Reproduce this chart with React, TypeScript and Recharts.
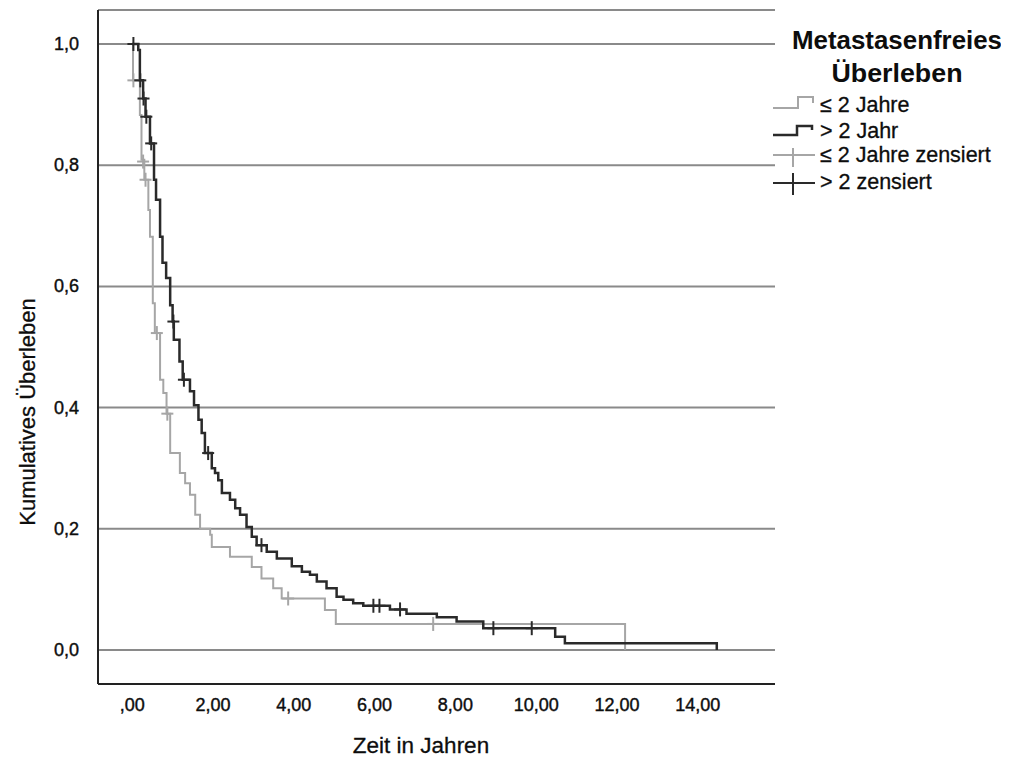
import React from "react";
import { ComposedChart, Line, Scatter, XAxis, YAxis, CartesianGrid } from "recharts";

const xTicks = [0, 2, 4, 6, 8, 10, 12, 14];
const yTicks = [0, 0.2, 0.4, 0.6, 0.8, 1.0];

// ≤ 2 Jahre (grau)
const shortTimes = [0, 0.02, 0.19, 0.23, 0.3, 0.4, 0.44, 0.51, 0.56, 0.69, 0.77, 0.85, 0.94, 1.18, 1.31, 1.43, 1.56, 1.68, 1.93, 1.97, 2.42, 2.96, 3.2, 3.49, 3.7, 4.77, 5.04, 12.2];
const shortSurv = [1, 0.94, 0.883, 0.809, 0.776, 0.726, 0.682, 0.572, 0.523, 0.446, 0.424, 0.39, 0.325, 0.292, 0.275, 0.256, 0.223, 0.2, 0.19, 0.17, 0.154, 0.137, 0.118, 0.102, 0.085, 0.066, 0.043, 0];
const shortCensTimes = [0.03, 0.27, 0.33, 0.61, 0.87, 3.86, 7.45];
const shortCensSurv = [0.94, 0.806, 0.776, 0.523, 0.39, 0.085, 0.043];

// > 2 Jahre (schwarz)
const longTimes = [0, 0.15, 0.19, 0.27, 0.33, 0.44, 0.54, 0.59, 0.69, 0.75, 0.84, 0.94, 1.0, 1.03, 1.17, 1.25, 1.43, 1.53, 1.64, 1.72, 1.8, 1.97, 2.05, 2.13, 2.22, 2.42, 2.55, 2.67, 2.83, 2.96, 3.08, 3.33, 3.58, 3.95, 4.2, 4.4, 4.57, 4.81, 5.06, 5.23, 5.47, 5.72, 6.38, 6.79, 7.54, 8.03, 8.69, 10.47, 10.71, 14.47];
const longSurv = [1, 0.99, 0.94, 0.91, 0.88, 0.836, 0.776, 0.743, 0.682, 0.639, 0.614, 0.569, 0.542, 0.512, 0.476, 0.446, 0.427, 0.404, 0.38, 0.358, 0.325, 0.3, 0.292, 0.28, 0.259, 0.248, 0.234, 0.223, 0.203, 0.187, 0.173, 0.162, 0.151, 0.138, 0.129, 0.124, 0.113, 0.102, 0.088, 0.083, 0.077, 0.073, 0.067, 0.06, 0.054, 0.047, 0.036, 0.022, 0.011, 0];
const longCensTimes = [0.03, 0.2, 0.28, 0.35, 0.47, 1.02, 1.28, 1.88, 3.2, 5.97, 6.12, 6.63, 8.94, 9.89];
const longCensSurv = [1.0, 0.94, 0.91, 0.88, 0.836, 0.542, 0.446, 0.325, 0.173, 0.073, 0.073, 0.067, 0.036, 0.036];

const zip = (ts: number[], ss: number[]) => ts.map((t, i) => ({ t, s: ss[i] }));
const shortData = zip(shortTimes, shortSurv);
const longData = zip(longTimes, longSurv);
const shortCens = zip(shortCensTimes, shortCensSurv);
const longCens = zip(longCensTimes, longCensSurv);

const GRAY = "#a6a6a6";
const BLACK = "#2a2a2a";
const FONT = "'Liberation Sans', Arial, sans-serif";
const TXT = "#0d0d0d";

const fmtX = (v: number) => (v === 0 ? ",00" : v.toFixed(2).replace(".", ","));
const fmtY = (v: number) => v.toFixed(1).replace(".", ",");

const Cross = (color: string, w: number) => (props: any) => {
  const { cx, cy } = props;
  if (cx == null || cy == null) return <g />;
  return (
    <g>
      <line x1={cx - 6} x2={cx + 6} y1={cy} y2={cy} stroke={color} strokeWidth={w} />
      <line x1={cx} x2={cx} y1={cy - 7} y2={cy + 7} stroke={color} strokeWidth={w} />
    </g>
  );
};

const XTick = (props: any) => {
  const { x, payload } = props;
  return (
    <text x={x} y={705} textAnchor="middle" dominantBaseline="central" fontFamily={FONT} fontSize={18} fill={TXT} stroke={TXT} strokeWidth={0.4}>
      {fmtX(payload.value)}
    </text>
  );
};

const YTick = (props: any) => {
  const { y, payload } = props;
  return (
    <text x={79} y={y} textAnchor="end" dominantBaseline="central" fontFamily={FONT} fontSize={18} fill={TXT} stroke={TXT} strokeWidth={0.4}>
      {fmtY(payload.value)}
    </text>
  );
};

const legendText = { fontFamily: FONT, fontSize: 21.5, fill: TXT, stroke: TXT, strokeWidth: 0.3 } as const;

export default function App() {
  return (
    <div style={{ margin: -8, position: "relative", width: 1009, height: 763, background: "#fff" }}>
      <ComposedChart width={1009} height={763} margin={{ top: 10, right: 234, bottom: 49, left: 38 }}>
        <CartesianGrid horizontal vertical={false} stroke="#8a8a8a" strokeWidth={2} />
        <XAxis
          type="number"
          dataKey="t"
          domain={[-0.8465, 15.911]}
          ticks={xTicks}
          allowDataOverflow
          height={30}
          tickLine={false}
          axisLine={{ stroke: "#222", strokeWidth: 2 }}
          tick={<XTick />}
        />
        <YAxis
          type="number"
          dataKey="s"
          domain={[-0.0561, 1.0561]}
          ticks={yTicks}
          allowDataOverflow
          width={60}
          tickLine={false}
          axisLine={{ stroke: "#222", strokeWidth: 2 }}
          tick={<YTick />}
        />
        <Line data={shortData} dataKey="s" type="stepAfter" stroke={GRAY} strokeWidth={2} dot={false} isAnimationActive={false} />
        <Line data={longData} dataKey="s" type="stepAfter" stroke={BLACK} strokeWidth={2.5} dot={false} isAnimationActive={false} />
        <Scatter data={shortCens} dataKey="s" shape={Cross(GRAY, 2)} isAnimationActive={false} />
        <Scatter data={longCens} dataKey="s" shape={Cross(BLACK, 2)} isAnimationActive={false} />
      </ComposedChart>
      <svg width={1009} height={763} style={{ position: "absolute", left: 0, top: 0, pointerEvents: "none" }}>
        <text x={421} y={745} textAnchor="middle" dominantBaseline="central" fontFamily={FONT} fontSize={22.5} fill={TXT} stroke={TXT} strokeWidth={0.3}>
          Zeit in Jahren
        </text>
        <text
          x={27}
          y={412}
          transform="rotate(-90 27 412)"
          textAnchor="middle"
          dominantBaseline="central"
          fontFamily={FONT}
          fontSize={22}
          fill={TXT}
          stroke={TXT}
          strokeWidth={0.3}
        >
          Kumulatives Überleben
        </text>
        <text x={897} y={49} textAnchor="middle" fontFamily={FONT} fontSize={26.5} fontWeight="bold" fill={TXT} textLength={210} lengthAdjust="spacingAndGlyphs">
          Metastasenfreies
        </text>
        <text x={897} y={82} textAnchor="middle" fontFamily={FONT} fontSize={26.5} fontWeight="bold" fill={TXT} textLength={131} lengthAdjust="spacingAndGlyphs">
          Überleben
        </text>
        <path d="M773,108 H798 V97 H813 V103" fill="none" stroke={GRAY} strokeWidth={2} />
        <path d="M773,135 H797 V126 H812 V130" fill="none" stroke={BLACK} strokeWidth={2.5} />
        <line x1={773} x2={815} y1={155} y2={155} stroke={GRAY} strokeWidth={2} />
        <line x1={793} x2={793} y1={148} y2={167} stroke={GRAY} strokeWidth={2} />
        <line x1={773} x2={815} y1={183} y2={183} stroke={BLACK} strokeWidth={2} />
        <line x1={793} x2={793} y1={173} y2={195} stroke={BLACK} strokeWidth={2} />
        <text x={820} y={105} dominantBaseline="central" {...legendText}>≤ 2 Jahre</text>
        <text x={820} y={131} dominantBaseline="central" {...legendText}>&gt; 2 Jahr</text>
        <text x={820} y={155} dominantBaseline="central" {...legendText}>≤ 2 Jahre zensiert</text>
        <text x={820} y={182} dominantBaseline="central" {...legendText}>&gt; 2  zensiert</text>
      </svg>
    </div>
  );
}
